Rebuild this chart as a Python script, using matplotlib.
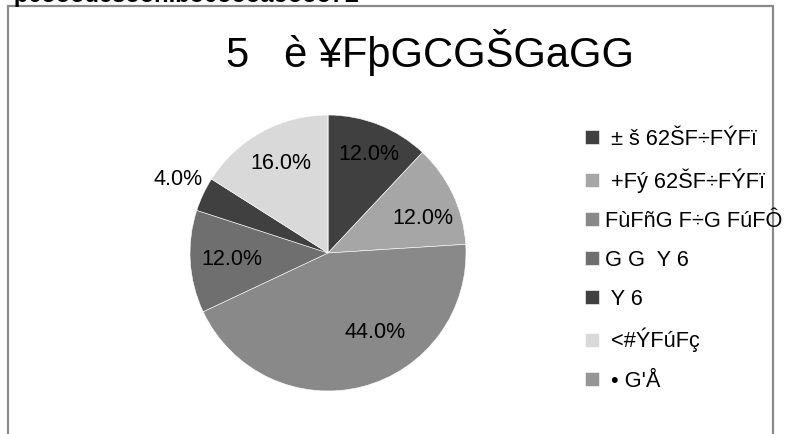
import numpy as np
import matplotlib.pyplot as plt
from matplotlib.patches import Rectangle

plt.rcParams['font.family'] = ['Liberation Sans', 'DejaVu Sans']

title = '5   è ¥FþGCGŠGaGG'
categories = [' ± š 62ŠF÷FÝFï', ' +Fý 62ŠF÷FÝFï', 'FùFñG F÷G FúFÔ',
              'G G  Y 6', ' Y 6', ' <#ÝFúFç', ' • G\'Å']
shares = [12.0, 12.0, 44.0, 12.0, 4.0, 16.0, 0.0]
colors = ['#404040', '#a6a6a6', '#898989', '#6f6f6f', '#404040', '#d9d9d9', '#969696']

# label placement (radius fraction, angle shift in degrees) per slice
lab_r = [0.77, 0.73, 0.67, 0.70, 1.21, 0.73, 0.0]
lab_da = [-1, -5, 16, 0, -1, -1, 0]

W, H = 788, 434
fig = plt.figure(figsize=(W / 100, H / 100), dpi=100)

# chart frame (bottom edge is cut off)
fig.add_artist(Rectangle((8 / W, -0.1), (773 - 8) / W, 1.1 - 6 / H,
                         transform=fig.transFigure, fill=False,
                         ec='#8a8a8a', lw=1.6, zorder=0))
# clipped caption above the frame
fig.text(0.0, 1 - 2 / H, '¬p6ooodcsoon.bo6oooaoooo7L', fontsize=17,
         fontweight='bold', va='baseline', ha='left')

cx, cy, r = 328, 253, 138
ax = fig.add_axes([(cx - r) / W, (H - cy - r) / H, 2 * r / W, 2 * r / H])
wedges, _ = ax.pie(shares, colors=colors, startangle=90, counterclock=False,
                   radius=1, wedgeprops=dict(edgecolor='white', linewidth=0.4))
ax.set_xlim(-1, 1)
ax.set_ylim(-1, 1)
ax.set_aspect('equal')
ax.axis('off')

for w, v, rr, da in zip(wedges, shares, lab_r, lab_da):
    if v == 0:
        continue
    a = np.deg2rad((w.theta1 + w.theta2) / 2 + da)
    ax.text(rr * np.cos(a), rr * np.sin(a), f'{v:.1f}%', ha='center',
            va='center', fontsize=15.5, clip_on=False)

fig.text(430 / W, 1 - 52 / H, title, fontsize=30, ha='center', va='center')

fig.legend(wedges, categories, loc='upper left',
           bbox_to_anchor=(585 / W, 1 - 129 / H), frameon=False,
           fontsize=15.7, handlelength=0.62, handleheight=0.62,
           handletextpad=0.3, labelspacing=0.83, borderpad=0, borderaxespad=0)

plt.savefig('out.png', dpi=100)
